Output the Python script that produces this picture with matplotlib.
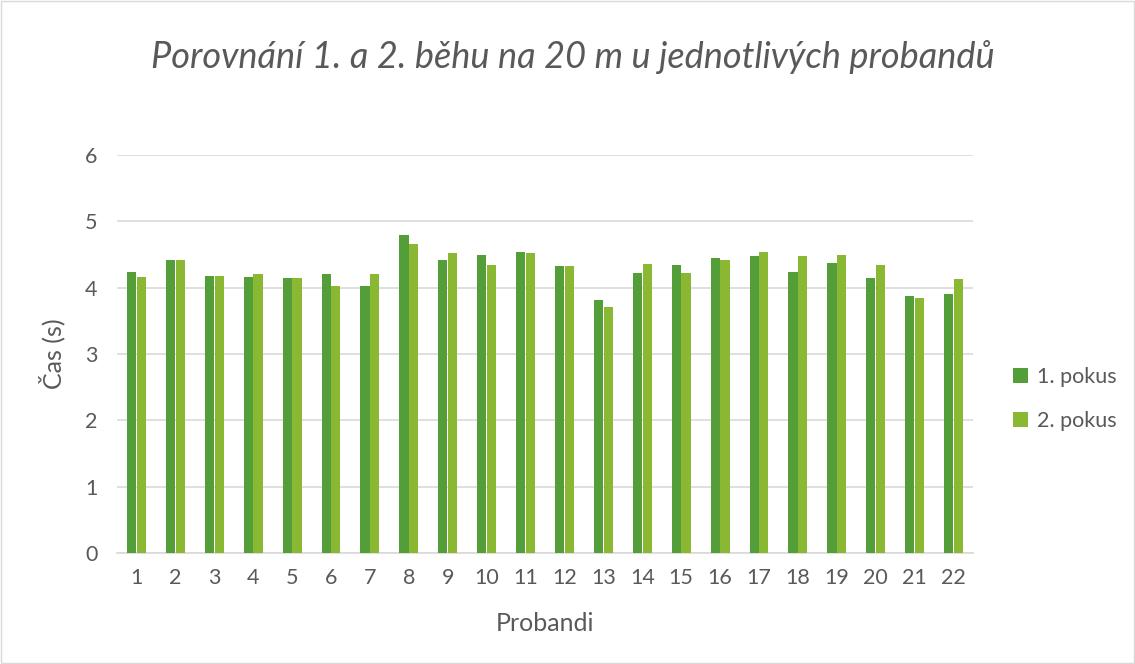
import matplotlib
matplotlib.use("Agg")
import matplotlib.pyplot as plt
import numpy as np
from matplotlib.patches import Rectangle

categories = [str(i) for i in range(1, 23)]
pokus1 = [4.23, 4.42, 4.18, 4.16, 4.15, 4.21, 4.02, 4.80, 4.42, 4.49, 4.54,
          4.33, 3.81, 4.22, 4.34, 4.45, 4.47, 4.24, 4.37, 4.15, 3.87, 3.91]
pokus2 = [4.16, 4.41, 4.17, 4.21, 4.14, 4.02, 4.20, 4.66, 4.53, 4.34, 4.53,
          4.33, 3.71, 4.35, 4.22, 4.41, 4.54, 4.48, 4.49, 4.34, 3.84, 4.13]
series_names = ["1. pokus", "2. pokus"]
yticks = [0, 1, 2, 3, 4, 5, 6]

plt.rcParams['font.family'] = ['Lato', 'DejaVu Sans']
text_col = "#595959"
c1 = "#549E39"
c2 = "#8AB833"

fig = plt.figure(figsize=(11.35, 6.64), dpi=100)
ax = fig.add_axes([117/1135, 1-553/664, (973-117)/1135, (553-155)/664])

x = np.arange(len(categories))
w = 0.235
ax.bar(x - 0.125, pokus1, width=w, color=c1, label=series_names[0], zorder=3)
ax.bar(x + 0.125, pokus2, width=w, color=c2, label=series_names[1], zorder=3)

ax.set_xlim(-0.5, len(categories) - 0.5)
ax.set_ylim(0, 6)
ax.set_yticks(yticks)
ax.set_xticks(x)
ax.set_xticklabels(categories)
ax.yaxis.grid(True, color="#D9D9D9", linewidth=1.2, zorder=0)
ax.set_axisbelow(True)
for s in ["top", "right", "left"]:
    ax.spines[s].set_visible(False)
ax.spines["bottom"].set_color("#D9D9D9")
ax.spines["bottom"].set_linewidth(1.2)
ax.tick_params(axis="x", length=0, labelsize=15.5, colors=text_col, pad=11)
ax.tick_params(axis="y", length=0, labelsize=15.5, colors=text_col, pad=14)

ax.set_xlabel("Probandi", fontsize=18, color=text_col, labelpad=17)
ax.set_ylabel("Čas (s)", fontsize=18, color=text_col, labelpad=14)

fig.text(573/1135, 1 - 57/664, "Porovnání 1. a 2. běhu na 20 m u jednotlivých probandů",
         ha="center", va="center", fontsize=26, style="italic", color=text_col)

leg = fig.legend(loc="center left", bbox_to_anchor=(1013/1135, 1 - 399/664),
                 frameon=False, fontsize=15.5, labelcolor=text_col, borderpad=0,
                 borderaxespad=0,
                 handlelength=0.7, handleheight=0.7, labelspacing=1.1, handletextpad=0.4)

fig.patches.append(Rectangle((0.001, 0.001), 0.998, 0.997, transform=fig.transFigure,
                             fill=False, edgecolor="#D9D9D9", linewidth=1))

fig.savefig("out.png", dpi=100)
